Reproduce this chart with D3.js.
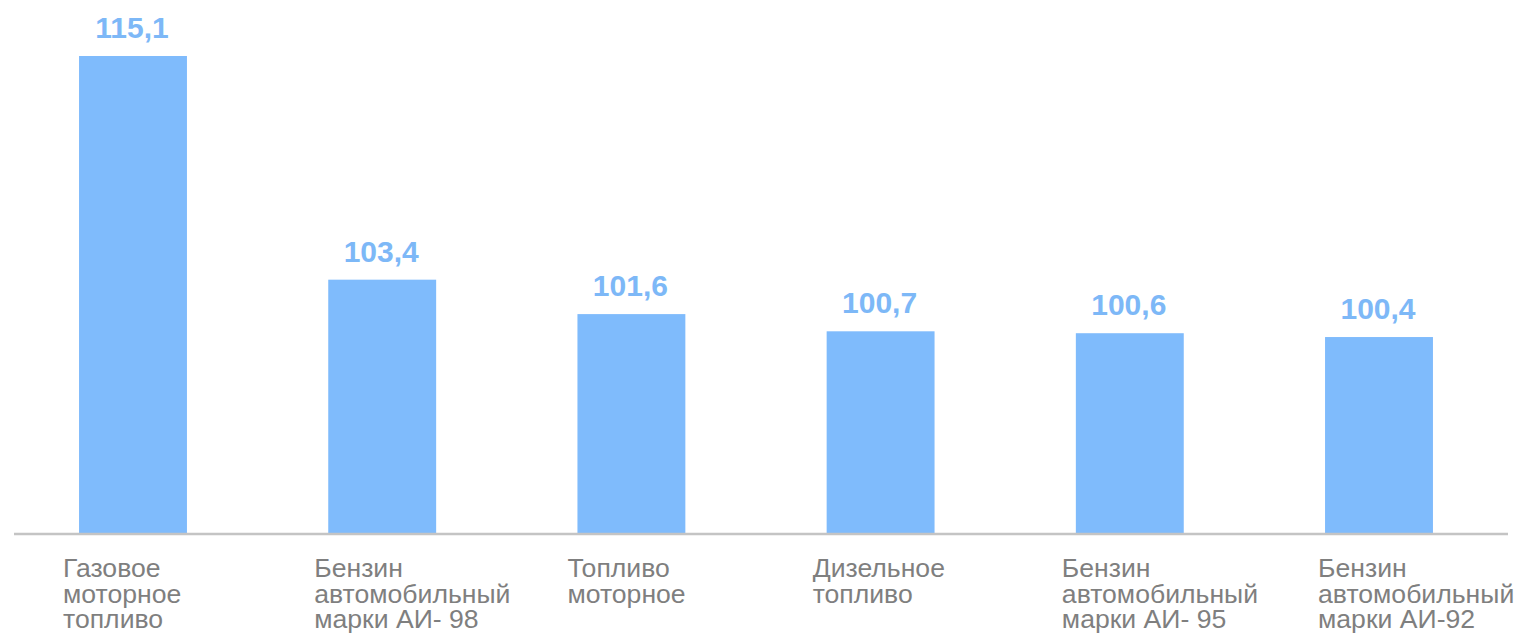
<!DOCTYPE html>
<html><head><meta charset="utf-8">
<script src="https://cdn.jsdelivr.net/npm/d3@7"></script>
<style>body{margin:0;background:#fff}svg{display:block}</style>
</head><body>
<svg id="c" width="1516" height="633"></svg>
<script>
const categories = [
  ["Газовое","моторное","топливо"],
  ["Бензин","автомобильный","марки АИ- 98"],
  ["Топливо","моторное"],
  ["Дизельное","топливо"],
  ["Бензин","автомобильный","марки АИ- 95"],
  ["Бензин","автомобильный","марки АИ-92"]
];
const values = [115.1, 103.4, 101.6, 100.7, 100.6, 100.4];
const valueLabels = ["115,1","103,4","101,6","100,7","100,6","100,4"];

const svg = d3.select("#c");
const ids = categories.map((c,i)=>i);
const x = d3.scaleBand().domain(ids).range([8.4, 1503.6]).paddingInner(0.567).paddingOuter(0.2835);
const y = d3.scaleLinear().domain([90.15, 115.1]).range([533, 56]);
const base = y.range()[0];

svg.selectAll("rect.bar").data(values).join("rect")
  .attr("class","bar")
  .attr("x",(d,i)=>x(i)).attr("width",x.bandwidth())
  .attr("y",d=>y(d)).attr("height",d=>base-y(d))
  .attr("fill","#7fbbfc");

svg.append("line").attr("x1",14).attr("x2",1508).attr("y1",base+1).attr("y2",base+1)
  .attr("stroke","#c4c4c4").attr("stroke-width",2.5);

svg.selectAll("text.val").data(values).join("text")
  .attr("class","val")
  .attr("x",(d,i)=>x(i)+x.bandwidth()/2-1).attr("y",d=>y(d)-18)
  .attr("text-anchor","middle")
  .attr("font-family","Liberation Sans, Arial, sans-serif")
  .attr("font-weight","bold").attr("font-size",30)
  .attr("fill","#7db8f7")
  .text((d,i)=>valueLabels[i]);

const offs = [-16,-14,-10,-14,-14,-7];
const lab = svg.selectAll("text.lab").data(categories).join("text")
  .attr("class","lab")
  .attr("font-family","Liberation Sans, Arial, sans-serif")
  .attr("font-size",26.6).attr("fill","#7f7f7f");
lab.each(function(lines,i){
  const t = d3.select(this);
  lines.forEach((s,j)=>{
    t.append("tspan").attr("x",x(i)+offs[i]).attr("y",577+j*25.6).text(s);
  });
});
</script>
</body></html>
